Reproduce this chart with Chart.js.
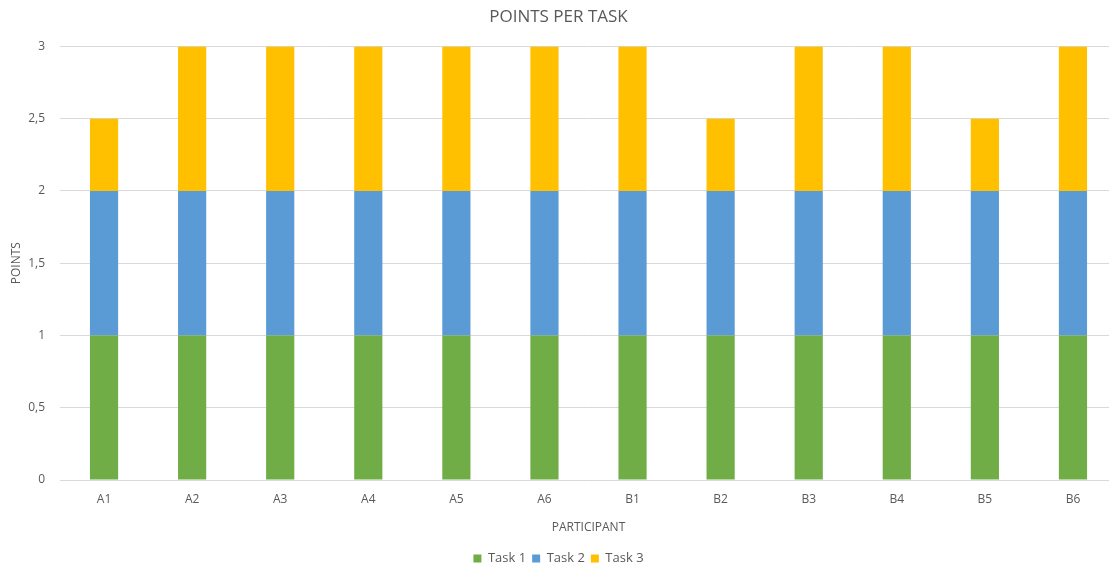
<!DOCTYPE html>
<html>
<head>
<meta charset="utf-8">
<script src="https://cdn.jsdelivr.net/npm/chart.js@4"></script>
<style>
  html, body { margin: 0; padding: 0; background: #fff; overflow: hidden; }
  #wrap { width: 1130px; height: 567px; }
</style>
</head>
<body>
<div id="wrap"><canvas id="grafico" width="1130" height="567"></canvas></div>
<script>
// participantes y puntos por tarea
var participantes = ['A1', 'A2', 'A3', 'A4', 'A5', 'A6', 'B1', 'B2', 'B3', 'B4', 'B5', 'B6'];
var tarea1 = [1, 1, 1, 1, 1, 1, 1, 1, 1, 1, 1, 1];
var tarea2 = [1, 1, 1, 1, 1, 1, 1, 1, 1, 1, 1, 1];
var tarea3 = [0.5, 1, 1, 1, 1, 1, 1, 0.5, 1, 1, 0.5, 1];
var ticksY = [0, 0.5, 1, 1.5, 2, 2.5, 3];

var gris = '#595959';
Chart.defaults.font.family = '"Open Sans", "Liberation Sans", sans-serif';
Chart.defaults.color = gris;

var datos = {
    labels: participantes,
    datasets: [
        { label: 'Task 1', data: tarea1, backgroundColor: '#70AD47' },
        { label: 'Task 2', data: tarea2, backgroundColor: '#5B9BD5' },
        { label: 'Task 3', data: tarea3, backgroundColor: '#FFC000' }
    ]
};

var barGraph = new Chart(document.getElementById('grafico'), {
    type: 'bar',
    data: datos,
    options: {
        responsive: false,
        animation: false,
        layout: { padding: { left: 0, right: 13, top: 0, bottom: -8 } },
        datasets: { bar: { barPercentage: 0.32, categoryPercentage: 1 } },
        plugins: {
            title: {
                display: true,
                text: 'POINTS PER TASK',
                font: { size: 17, weight: 'normal' },
                color: gris,
                padding: { top: 7, bottom: 19 }
            },
            legend: {
                position: 'bottom',
                labels: { boxWidth: 8, boxHeight: 8, padding: 6, font: { size: 13 } }
            },
            tooltip: { enabled: false }
        },
        scales: {
            x: {
                stacked: true,
                grid: { display: false },
                border: { display: false },
                ticks: { padding: 4, font: { size: 12 } },
                title: { display: true, text: 'PARTICIPANT', font: { size: 12 }, padding: { top: 0, bottom: 11 } },
                afterFit: function (scale) { scale.height = 66; }
            },
            y: {
                stacked: true,
                min: 0,
                max: 3,
                grid: { color: '#d9d9d9', drawTicks: false },
                border: { display: false },
                afterBuildTicks: function (scale) {
                    scale.ticks = ticksY.map(function (v) { return { value: v }; });
                },
                ticks: {
                    padding: 15,
                    font: { size: 12 },
                    callback: function (v) { return String(v).replace('.', ','); }
                },
                title: { display: true, text: 'POINTS', font: { size: 12 }, padding: { top: 9, bottom: 0 } },
                afterFit: function (scale) { scale.width = 60; }
            }
        }
    }
});
</script>
</body>
</html>
